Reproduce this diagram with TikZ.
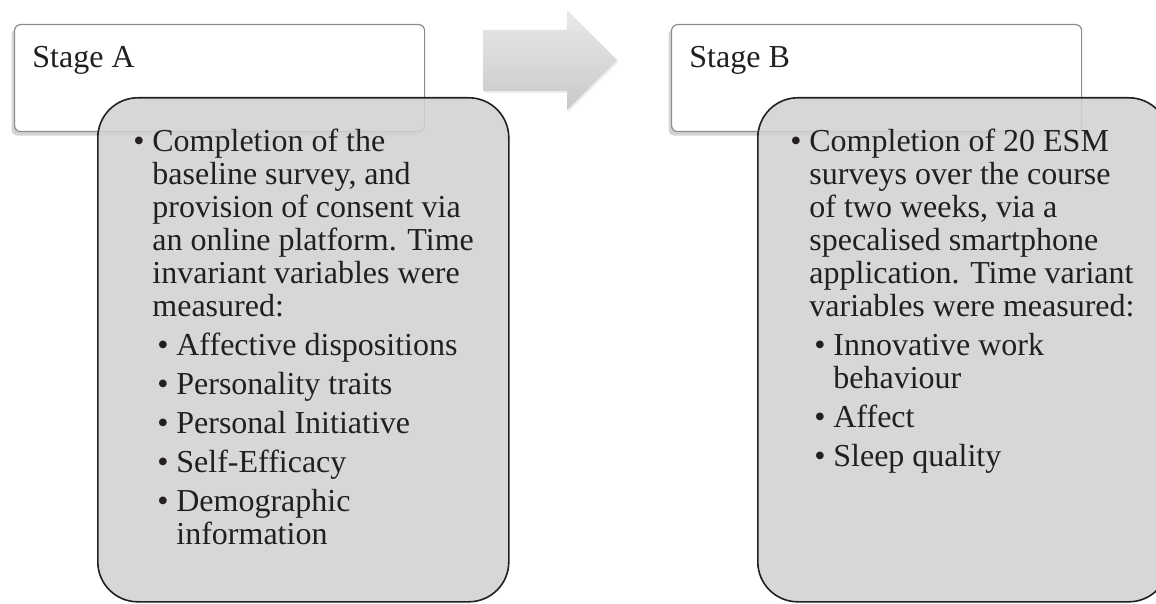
\documentclass[tikz,border=0pt]{standalone}
\usepackage{fontspec}
\setmainfont{Liberation Serif}
\usetikzlibrary{positioning,shadows}

\definecolor{inkgray}{HTML}{231F20}
\definecolor{boxgray}{HTML}{D1D2D4}
\definecolor{rimgray}{HTML}{8A8B8D}
\definecolor{arrowtop}{HTML}{E8E9EA}
\definecolor{arrowbot}{HTML}{C8C9CB}

\newcommand{\subbul}{\hspace*{2.5pt}\makebox[9.5pt][l]{\textbullet}}
\newcommand{\subrest}{\hspace*{12pt}}

\begin{document}
\begin{tikzpicture}[
    x=0.5pt, y=-0.5pt,
    stagebox/.style={draw=rimgray, fill=white, rounded corners=3pt, line width=0.6pt, minimum width=205pt, minimum height=53.5pt, anchor=north west, inner sep=0pt, drop shadow={shadow xshift=-1.5pt, shadow yshift=-2pt, opacity=0.35}},
    detailbox/.style={draw=inkgray, fill=boxgray, fill opacity=0.88, draw opacity=1, rounded corners=20pt, line width=0.8pt, minimum width=205.5pt, minimum height=252pt, anchor=north west, inner sep=0pt},
    stagetext/.style={anchor=base west, inner sep=0pt, font=\fontsize{16}{19}\selectfont, text=inkgray},
    detailtext/.style={anchor=base west, inner sep=0pt, font=\fontsize{16}{16.5}\selectfont, text=inkgray}
]
\useasboundingbox (0,0) rectangle (1156,604);

% stage A
\node[stagebox] (stageA) at (14,24) {};
\node[stagetext] (stageAtext) at (32,68) {Stage A};
\node[detailbox] (detailA) at (97,97) {};
\node[detailtext] (itemsA) at (133,152) {%
\begin{tabular}[t]{@{}p{9.5pt}@{}l@{}}
\textbullet & Completion of the\\
 & baseline survey, and\\
 & provision of consent via\\
 & an online platform. Time\\
 & invariant variables were\\
 & measured:\\[3pt]
 & \subbul Affective dispositions\\[3pt]
 & \subbul Personality traits\\[3pt]
 & \subbul Personal Initiative\\[3pt]
 & \subbul Self-Efficacy\\[3pt]
 & \subbul Demographic\\
 & \subrest information
\end{tabular}};

% block arrow
\shade[top color=arrowtop, bottom color=arrowbot, drop shadow={shadow xshift=0.5pt, shadow yshift=-1pt, opacity=0.15}]
    (483,30) -- (567,30) -- (567,10) -- (617,60) -- (567,110) -- (567,91) -- (483,91) -- cycle;

% stage B
\node[stagebox] (stageB) at (671,24) {};
\node[stagetext] (stageBtext) at (689,68) {Stage B};
\node[detailbox] (detailB) at (757,97) {};
\node[detailtext] (itemsB) at (790,152) {%
\begin{tabular}[t]{@{}p{9.5pt}@{}l@{}}
\textbullet & Completion of 20 ESM\\
 & surveys over the course\\
 & of two weeks, via a\\
 & specalised smartphone\\
 & application. Time variant\\
 & variables were measured:\\[3pt]
 & \subbul Innovative work\\
 & \subrest behaviour\\[3pt]
 & \subbul Affect\\[3pt]
 & \subbul Sleep quality
\end{tabular}};
\end{tikzpicture}
\end{document}
